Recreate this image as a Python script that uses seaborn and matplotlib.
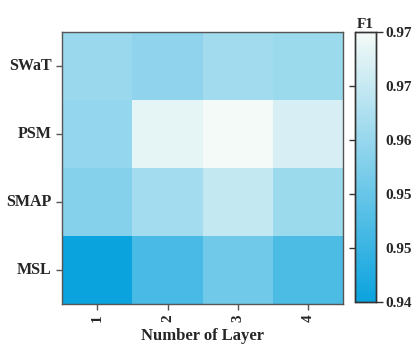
import numpy as np
import pandas as pd
import matplotlib
matplotlib.use("Agg")
import matplotlib.pyplot as plt
from matplotlib.colors import LinearSegmentedColormap
import seaborn as sns

datasets = ["SWaT", "PSM", "SMAP", "MSL"]
layers = ["1", "2", "3", "4"]
swat = [0.9598, 0.9584, 0.9608, 0.9599]
psm = [0.9589, 0.9691, 0.9710, 0.9673]
smap = [0.9571, 0.9609, 0.9650, 0.9599]
msl = [0.9420, 0.9496, 0.9548, 0.9502]

df = pd.DataFrame([swat, psm, smap, msl], index=datasets, columns=layers)

sns.set_style("ticks")
plt.rcParams['font.family'] = ['Liberation Serif', 'DejaVu Serif']
plt.rcParams['font.weight'] = 'bold'

cmap = LinearSegmentedColormap.from_list("blu", ["#0ba3de", "#f4faf7"])

fig = plt.figure(figsize=(4.14, 3.45), dpi=100)
ax = fig.add_axes([0.150, 0.119, 0.679, 0.788])
cax = fig.add_axes([0.858, 0.125, 0.050, 0.782])

vmin, vmax = df.values.min(), df.values.max()
cticks = np.linspace(vmin, vmax, 6)
sns.heatmap(df, ax=ax, cbar_ax=cax, cmap=cmap, vmin=vmin, vmax=vmax,
            cbar_kws={"ticks": cticks, "format": "%.2f"})

for s in ax.spines.values():
    s.set_visible(True)
    s.set_color("#555555")
    s.set_linewidth(1.0)
for s in cax.spines.values():
    s.set_visible(True)
    s.set_color("#333333")
    s.set_linewidth(1.0)

ax.set_xlabel("Number of Layer", fontsize=12, fontweight='bold')
ax.set_ylabel("")
ax.set_xticklabels(layers, rotation=90, fontsize=11, fontweight='bold')
ax.set_yticklabels(datasets, rotation=0, fontsize=11.5, fontweight='bold')
ax.tick_params(axis='both', length=4, width=1, color="#555555")

# main colorbar labels on the right, tick marks drawn by secondary axes
cax.tick_params(labelsize=11, length=0, pad=7)
for t in cax.get_yticklabels():
    t.set_fontweight('bold')
cax.set_title("F1", fontsize=11, fontweight='bold', pad=3)

sec_r = cax.secondary_yaxis('right')
sec_r.set_yticks([cticks[0], cticks[-1]])
sec_r.tick_params(length=5, width=1, labelright=False, color="#333333")
for s in sec_r.spines.values():
    s.set_visible(False)

sec_l = cax.secondary_yaxis('left')
sec_l.set_yticks(cticks[1:-1])
sec_l.tick_params(length=4, width=1, labelleft=False, color="#333333")
for s in sec_l.spines.values():
    s.set_visible(False)

fig.savefig("out.png", dpi=100)
